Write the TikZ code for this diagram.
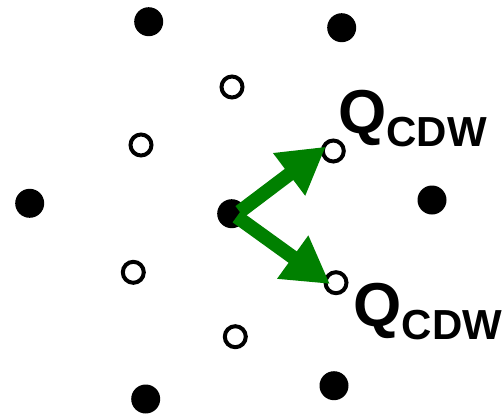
\documentclass[tikz,border=0pt]{standalone}
\usepackage{fontspec}
\setmainfont{Liberation Sans}
\usetikzlibrary{arrows.meta}
\definecolor{qgreen}{RGB}{0,128,0}
\tikzset{
  fdot/.style={circle, fill=black, inner sep=0pt, minimum size=29pt},
  odot/.style={circle, draw=black, line width=4pt, fill=white, inner sep=0pt, minimum size=21pt},
  qarrow/.style={draw=qgreen, line width=14pt, -{Triangle[length=46pt,width=50pt]}},
  lbl/.style={inner sep=0pt, anchor=base west, font=\bfseries\fontsize{62}{62}\selectfont}
}
\newcommand{\qcdw}{Q\raisebox{-13.5pt}{\fontsize{42}{42}\selectfont CDW}}
\begin{document}
\begin{tikzpicture}[x=1pt,y=-1pt]
\useasboundingbox (0,0) rectangle (504,418);
% filled dots
\node[fdot] (f1) at (148.7,21.7) {};
\node[fdot] (f2) at (341.7,27.7) {};
\node[fdot] (f3) at (29.7,203.3) {};
\node[fdot] (c)  at (231.7,213.7) {};
\node[fdot] (f5) at (432,200) {};
\node[fdot] (f6) at (145.7,399) {};
\node[fdot] (f7) at (334,385.7) {};
% open circles
\node[odot] (o1) at (232,87) {};
\node[odot] (o2) at (141,145) {};
\node[odot] (o3) at (333.3,151) {};
\node[odot] (o4) at (133.3,272.3) {};
\node[odot] (o5) at (336,282.7) {};
\node[odot] (o6) at (235.3,336.7) {};
% arrows
\draw[qarrow] ([shift={(8,-2)}]c.center) -- ([shift={(-7.5,-4.3)}]o3.center);
\draw[qarrow] ([shift={(5,3)}]c.center) -- ([shift={(-6,1.3)}]o5.center);
% labels
\node[lbl] (l1) at (338,133) {\qcdw};
\node[lbl] (l2) at (353.5,326) {\qcdw};
\end{tikzpicture}
\end{document}
